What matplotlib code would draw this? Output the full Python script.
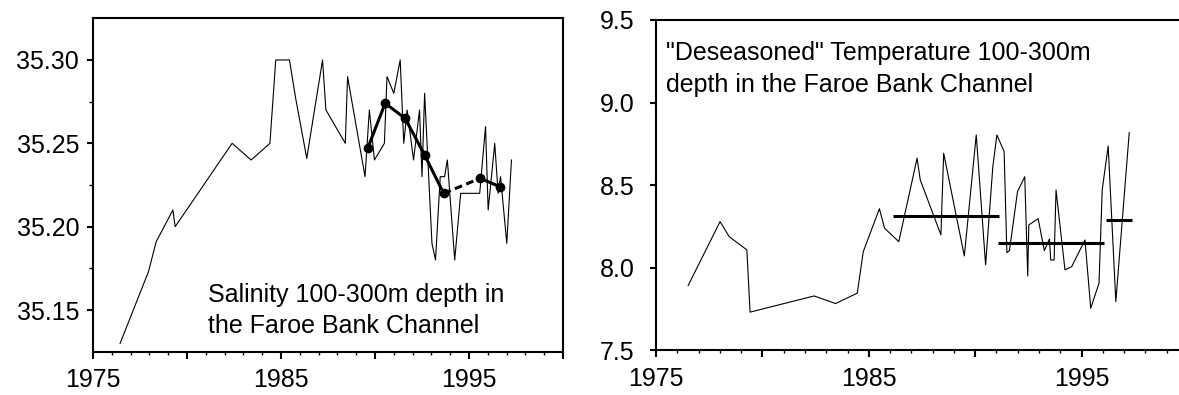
import matplotlib
matplotlib.use("Agg")
import matplotlib.pyplot as plt
from matplotlib.ticker import MultipleLocator, FormatStrFormatter, FixedLocator

plt.rcParams['font.family'] = ['Liberation Sans', 'DejaVu Sans']

# Salinity 100-300 m, Faroe Bank Channel
sal_years = [1976.44, 1977.95, 1978.36, 1979.25, 1979.37, 1982.40, 1983.41, 1984.41,
             1984.72, 1985.45, 1985.78, 1986.37, 1987.21, 1987.39, 1988.42, 1988.54,
             1989.47, 1989.70, 1989.97, 1990.50, 1990.64, 1991.00, 1991.34, 1991.53,
             1991.71, 1992.05, 1992.37, 1992.50, 1992.64, 1993.03, 1993.22, 1993.47,
             1993.70, 1993.85, 1994.24, 1994.56, 1995.57, 1995.88, 1996.02, 1996.37,
             1996.55, 1996.68, 1997.01, 1997.26]
sal_values = [35.130, 35.173, 35.191, 35.210, 35.200, 35.250, 35.240, 35.250,
              35.300, 35.300, 35.277, 35.241, 35.300, 35.270, 35.250, 35.290,
              35.230, 35.270, 35.240, 35.250, 35.290, 35.280, 35.300, 35.250,
              35.270, 35.240, 35.270, 35.230, 35.280, 35.190, 35.180, 35.230,
              35.230, 35.240, 35.180, 35.220, 35.220, 35.260, 35.210, 35.250,
              35.220, 35.230, 35.190, 35.240]

# annual means (thick line with dots, gap bridged by a dashed segment)
sal_mean_years = [1989.61, 1990.54, 1991.60, 1992.64, 1993.65, 1995.60, 1996.64]
sal_mean_values = [35.247, 35.274, 35.265, 35.243, 35.220, 35.229, 35.224]

# "Deseasoned" temperature 100-300 m
temp_years = [1976.51, 1978.01, 1978.44, 1979.27, 1979.42, 1982.43, 1983.44, 1984.46,
              1984.74, 1985.50, 1985.74, 1986.41, 1987.27, 1987.42, 1988.39, 1988.52,
              1989.49, 1990.05, 1990.49, 1990.83, 1991.02, 1991.36, 1991.49, 1991.61,
              1991.99, 1992.33, 1992.47, 1992.52, 1992.96, 1993.25, 1993.49, 1993.55,
              1993.71, 1993.80, 1994.22, 1994.54, 1995.16, 1995.43, 1995.82, 1995.97,
              1996.25, 1996.61, 1997.24]
temp_values = [7.892, 8.279, 8.188, 8.108, 7.731, 7.829, 7.783, 7.846,
               8.097, 8.357, 8.239, 8.158, 8.663, 8.531, 8.199, 8.693,
               8.071, 8.804, 8.017, 8.612, 8.804, 8.703, 8.091, 8.103,
               8.461, 8.551, 7.950, 8.259, 8.297, 8.103, 8.174, 8.047,
               8.047, 8.471, 7.987, 8.007, 8.168, 7.755, 7.906, 8.471,
               8.737, 7.795, 8.818]

# period means of temperature
temp_mean_start = [1986.14, 1991.09, 1996.13]
temp_mean_end = [1991.11, 1996.05, 1997.35]
temp_mean_values = [8.314, 8.148, 8.289]

year_ticks = [1975, 1980, 1985, 1990, 1995, 2000]
year_labels = ['1975', '', '1985', '', '1995', '']

FS = 18

fig = plt.figure(figsize=(11.79, 3.95), dpi=100)
ax1 = fig.add_axes([0.0789, 0.1096, 0.3986, 0.8441])
ax2 = fig.add_axes([0.5564, 0.1132, 0.4512, 0.8362])

for ax in (ax1, ax2):
    for sp in ax.spines.values():
        sp.set_linewidth(1.5)
    ax.set_xlim(1975, 2000)
    ax.set_xticks(year_ticks)
    ax.set_xticklabels(year_labels)
    ax.xaxis.set_minor_locator(MultipleLocator(1))
    ax.tick_params(axis='x', which='major', direction='out', length=5, width=1.5,
                   labelsize=FS, pad=7)
    ax.tick_params(axis='x', which='minor', direction='out', length=2.5, width=1)

# left: salinity
ax1.plot(sal_years, sal_values, color='black', lw=0.8)
ax1.plot(sal_mean_years[:5], sal_mean_values[:5], color='black', lw=2.2,
         marker='o', markersize=6)
ax1.plot(sal_mean_years[4:6], sal_mean_values[4:6], color='black', lw=2.2, ls=(0, (2.5, 1.5)))
ax1.plot(sal_mean_years[5:], sal_mean_values[5:], color='black', lw=2.2,
         marker='o', markersize=6)
ax1.set_ylim(35.125, 35.325)
ax1.yaxis.set_major_locator(MultipleLocator(0.05))
ax1.yaxis.set_minor_locator(FixedLocator([35.175, 35.225, 35.275]))
ax1.yaxis.set_major_formatter(FormatStrFormatter('%.2f'))
ax1.tick_params(axis='y', which='major', direction='out', length=4, width=1.5,
                labelsize=FS, pad=6)
ax1.tick_params(axis='y', which='minor', direction='out', length=3, width=1)
ax1.text(0.2447, 0.150, 'Salinity 100-300m depth in', transform=ax1.transAxes,
         fontsize=FS, va='baseline', ha='left')
ax1.text(0.2447, 0.056, 'the Faroe Bank Channel', transform=ax1.transAxes,
         fontsize=FS, va='baseline', ha='left')

# right: temperature
ax2.plot(temp_years, temp_values, color='black', lw=0.8)
ax2.hlines(temp_mean_values, temp_mean_start, temp_mean_end, color='black', lw=2.2)
ax2.set_ylim(7.5, 9.5)
ax2.yaxis.set_major_locator(MultipleLocator(0.5))
ax2.yaxis.set_major_formatter(FormatStrFormatter('%.1f'))
ax2.tick_params(axis='y', which='major', direction='out', length=4.5, width=1.5,
                labelsize=FS, pad=11)
ax2.text(0.0188, 0.879, '"Deseasoned" Temperature 100-300m', transform=ax2.transAxes,
         fontsize=FS, va='baseline', ha='left')
ax2.text(0.0188, 0.783, 'depth in the Faroe Bank Channel', transform=ax2.transAxes,
         fontsize=FS, va='baseline', ha='left')

fig.savefig('out.png', dpi=100)
